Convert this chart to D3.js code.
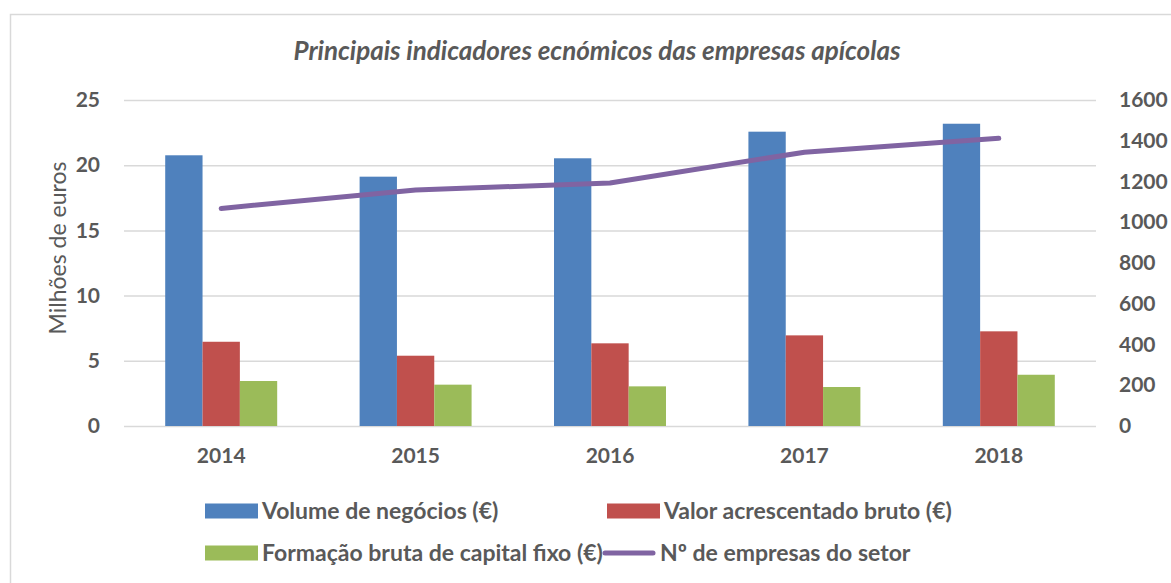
<!DOCTYPE html>
<html>
<head>
<meta charset="utf-8">
<script src="https://cdn.jsdelivr.net/npm/d3@7"></script>
<style>
	body { margin: 0; background: #fff; }
	text { font-family: Lato, "Open Sans", sans-serif; fill: #595959; }
</style>
</head>
<body>
<div id="chart"></div>
<script>
var years = ["2014", "2015", "2016", "2017", "2018"];
var volumeNegocios = [20.76, 19.12, 20.53, 22.57, 23.18];
var valorAcrescentado = [6.46, 5.39, 6.34, 6.95, 7.26];
var formacaoCapital = [3.45, 3.17, 3.04, 2.99, 3.93];
var numEmpresas = [1068, 1158, 1193, 1344, 1412];
var leftTicks = [0, 5, 10, 15, 20, 25];
var rightTicks = [0, 200, 400, 600, 800, 1000, 1200, 1400, 1600];

var seriesNames = ["Volume de negócios (€)", "Valor acrescentado bruto (€)", "Formação bruta de capital fixo (€)"];
var seriesColors = ["#4F81BD", "#C0504D", "#9BBB59"];
var lineName = "Nº de empresas do setor";
var lineColor = "#8064A2";

(function() {
	var width = 1171,
		height = 583;

	var svg = d3.select("#chart")
		.append("svg")
		.attr("width", width)
		.attr("height", height);

	// chart area border
	svg.append("rect")
		.attr("x", 10.5).attr("y", 14.5)
		.attr("width", 1170).attr("height", 600)
		.attr("fill", "none")
		.attr("stroke", "#d9d9d9")
		.attr("stroke-width", 1.5);

	var plotLeft = 124, plotRight = 1096, plotTop = 100, plotBottom = 426;

	var x = d3.scaleBand().domain(years).range([plotLeft, plotRight])
		.paddingInner(0.424).paddingOuter(0.212);
	var x1 = d3.scaleBand().domain(d3.range(3)).range([0, x.bandwidth()]);
	var y = d3.scaleLinear().domain([0, 25]).range([plotBottom, plotTop]);
	var y2 = d3.scaleLinear().domain([0, 1600]).range([plotBottom, plotTop]);

	// gridlines
	svg.append("g")
		.attr("transform", "translate(" + plotLeft + ",0)")
		.call(d3.axisLeft(y).tickValues(leftTicks).tickSize(-(plotRight - plotLeft)).tickFormat(""))
		.call(function(g) { g.select(".domain").remove(); })
		.selectAll("line").attr("stroke", "#d9d9d9").attr("stroke-width", 1.5);

	function styleTicks(g) {
		g.select(".domain").remove();
		g.selectAll("text").attr("font-size", 21).attr("font-weight", "bold")
			.attr("font-family", "Lato").attr("fill", "#595959");
	}

	// left tick labels
	svg.append("g")
		.attr("transform", "translate(100,0)")
		.call(d3.axisLeft(y).tickValues(leftTicks).tickSize(0).tickPadding(0))
		.call(styleTicks);

	// right tick labels
	svg.append("g")
		.attr("transform", "translate(1119,0)")
		.call(d3.axisRight(y2).tickValues(rightTicks).tickSize(0).tickPadding(0).tickFormat(d3.format("d")))
		.call(styleTicks);

	// category labels
	svg.append("g")
		.attr("transform", "translate(0," + plotBottom + ")")
		.call(d3.axisBottom(x).tickSize(0).tickPadding(22))
		.call(styleTicks);

	// bars
	var allSeries = [volumeNegocios, valorAcrescentado, formacaoCapital];
	var groups = svg.selectAll(".year")
		.data(years)
		.enter().append("g")
		.attr("class", "year")
		.attr("transform", function(d) { return "translate(" + x(d) + ",0)"; });

	groups.selectAll("rect")
		.data(function(d, i) {
			return allSeries.map(function(s, k) { return { k: k, v: s[i] }; });
		})
		.enter().append("rect")
		.attr("x", function(d) { return x1(d.k); })
		.attr("width", x1.bandwidth())
		.attr("y", function(d) { return y(d.v); })
		.attr("height", function(d) { return y(0) - y(d.v); })
		.attr("fill", function(d) { return seriesColors[d.k]; });

	// line
	var line = d3.line()
		.x(function(d, i) { return x(years[i]) + x.bandwidth() / 2; })
		.y(function(d) { return y2(d); });

	svg.append("path")
		.datum(numEmpresas)
		.attr("d", line)
		.attr("fill", "none")
		.attr("stroke", lineColor)
		.attr("stroke-width", 5)
		.attr("stroke-linecap", "round")
		.attr("stroke-linejoin", "round");

	// title
	svg.append("text")
		.attr("x", 597).attr("y", 60)
		.attr("text-anchor", "middle")
		.attr("font-size", 26)
		.attr("font-weight", "bold")
		.attr("font-style", "italic")
		.text("Principais indicadores ecnómicos das empresas apícolas");

	// y axis title
	svg.append("text")
		.attr("transform", "translate(66,248) rotate(-90)")
		.attr("text-anchor", "middle")
		.attr("font-size", 23)
		.text("Milhões de euros");

	// legend
	var legendItems = [
		{ name: seriesNames[0], color: seriesColors[0], type: "rect", x: 205, y: 511 },
		{ name: seriesNames[1], color: seriesColors[1], type: "rect", x: 607, y: 511 },
		{ name: seriesNames[2], color: seriesColors[2], type: "rect", x: 205, y: 553 },
		{ name: lineName, color: lineColor, type: "line", x: 602, y: 553 }
	];

	var legend = svg.selectAll(".legend")
		.data(legendItems)
		.enter().append("g")
		.attr("class", "legend")
		.attr("transform", function(d) { return "translate(" + d.x + "," + d.y + ")"; });

	legend.filter(function(d) { return d.type === "rect"; })
		.append("rect")
		.attr("x", 0).attr("y", -7.5)
		.attr("width", 53).attr("height", 15)
		.attr("fill", function(d) { return d.color; });

	legend.filter(function(d) { return d.type === "line"; })
		.append("line")
		.attr("x1", 3).attr("x2", 51)
		.attr("stroke", function(d) { return d.color; })
		.attr("stroke-width", 5)
		.attr("stroke-linecap", "round");

	legend.append("text")
		.attr("x", function(d) { return d.type === "line" ? 58 : 57; })
		.attr("dy", "0.35em")
		.attr("font-size", 23)
		.attr("font-weight", "bold")
		.text(function(d) { return d.name; });
})();
</script>
</body>
</html>
